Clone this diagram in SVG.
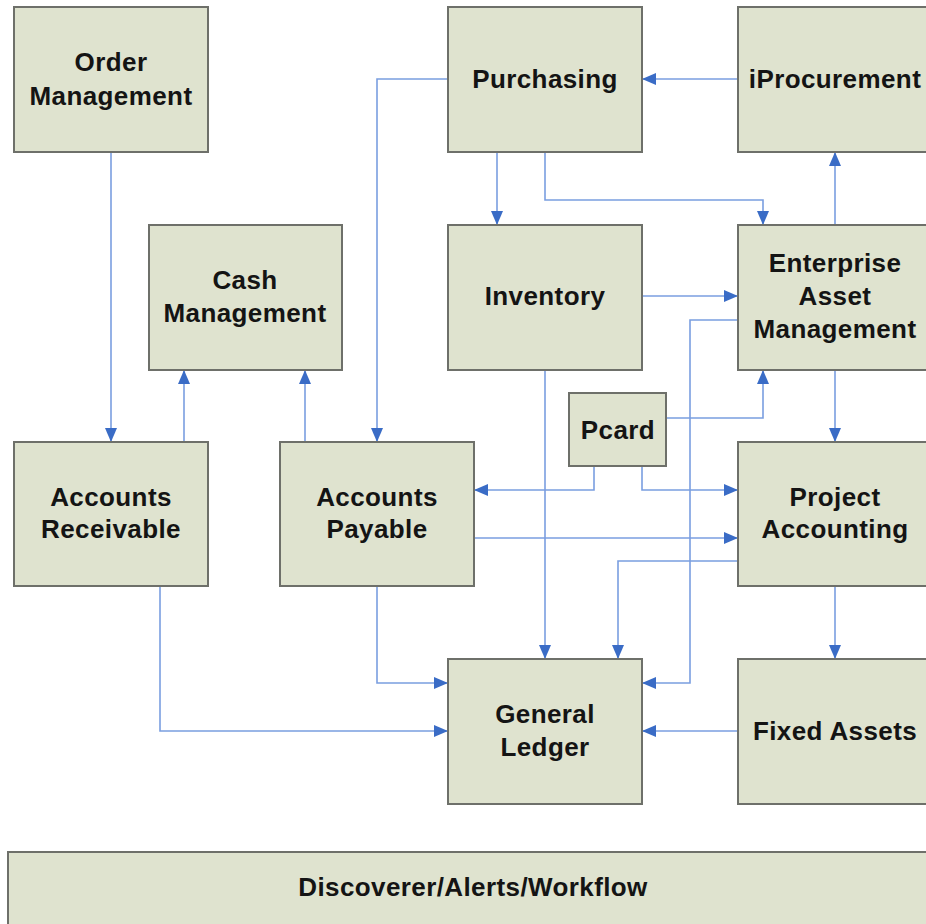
<svg xmlns="http://www.w3.org/2000/svg" width="926" height="924" viewBox="0 0 926 924">
<defs>
<marker id="ah" markerWidth="14" markerHeight="12" refX="13" refY="6" orient="auto" markerUnits="userSpaceOnUse">
<path d="M0,0 L14,6 L0,12 Z" fill="#3a6cc6"/>
</marker>
<style>
.box{fill:#dfe3cf;stroke:#6e706a;stroke-width:2}
.t{font-family:"Liberation Sans",Arial,sans-serif;font-weight:bold;font-size:26px;letter-spacing:0.4px;fill:#141414;text-anchor:middle}
.c{fill:none;stroke:#7a9ee0;stroke-width:1.6;marker-end:url(#ah)}
</style>
</defs>
<rect width="926" height="924" fill="#ffffff"/>
<g id="connectors">
<path class="c" d="M111,153 V441"/>
<path class="c" d="M184,441 V371"/>
<path class="c" d="M305,441 V371"/>
<path class="c" d="M448,79 H377 V441"/>
<path class="c" d="M497,153 V224"/>
<path class="c" d="M545,153 V200 H763 V224"/>
<path class="c" d="M738,79 H643"/>
<path class="c" d="M835,224 V153"/>
<path class="c" d="M643,296 H737"/>
<path class="c" d="M738,320 H690 V683 H643"/>
<path class="c" d="M667,418 H763 V371"/>
<path class="c" d="M594,467 V490 H475"/>
<path class="c" d="M642,467 V490 H737"/>
<path class="c" d="M475,538 H737"/>
<path class="c" d="M738,561 H618 V658"/>
<path class="c" d="M545,371 V658"/>
<path class="c" d="M835,371 V441"/>
<path class="c" d="M835,587 V658"/>
<path class="c" d="M738,731 H643"/>
<path class="c" d="M377,587 V683 H447"/>
<path class="c" d="M160,587 V731 H447"/>
</g>
<g id="order-management"><rect class="box" x="14" y="7" width="194" height="145"/><text class="t" x="111" y="71">Order</text><text class="t" x="111" y="105">Management</text></g>
<g id="purchasing"><rect class="box" x="448" y="7" width="194" height="145"/><text class="t" x="545" y="88">Purchasing</text></g>
<g id="iprocurement"><rect class="box" x="738" y="7" width="200" height="145"/><text class="t" x="835" y="88">iProcurement</text></g>
<g id="cash-management"><rect class="box" x="149" y="225" width="193" height="145"/><text class="t" x="245" y="289">Cash</text><text class="t" x="245" y="322">Management</text></g>
<g id="inventory"><rect class="box" x="448" y="225" width="194" height="145"/><text class="t" x="545" y="305">Inventory</text></g>
<g id="enterprise-asset-management"><rect class="box" x="738" y="225" width="200" height="145"/><text class="t" x="835" y="272">Enterprise</text><text class="t" x="835" y="305">Asset</text><text class="t" x="835" y="338">Management</text></g>
<g id="pcard"><rect class="box" x="569" y="393" width="97" height="73"/><text class="t" x="618" y="439">Pcard</text></g>
<g id="accounts-receivable"><rect class="box" x="14" y="442" width="194" height="144"/><text class="t" x="111" y="506">Accounts</text><text class="t" x="111" y="538">Receivable</text></g>
<g id="accounts-payable"><rect class="box" x="280" y="442" width="194" height="144"/><text class="t" x="377" y="506">Accounts</text><text class="t" x="377" y="538">Payable</text></g>
<g id="project-accounting"><rect class="box" x="738" y="442" width="200" height="144"/><text class="t" x="835" y="506">Project</text><text class="t" x="835" y="538">Accounting</text></g>
<g id="general-ledger"><rect class="box" x="448" y="659" width="194" height="145"/><text class="t" x="545" y="723">General</text><text class="t" x="545" y="756">Ledger</text></g>
<g id="fixed-assets"><rect class="box" x="738" y="659" width="200" height="145"/><text class="t" x="835" y="740">Fixed Assets</text></g>
<g id="discoverer"><rect class="box" x="8" y="852" width="930" height="90"/><text class="t" x="473" y="896">Discoverer/Alerts/Workflow</text></g>
</svg>
